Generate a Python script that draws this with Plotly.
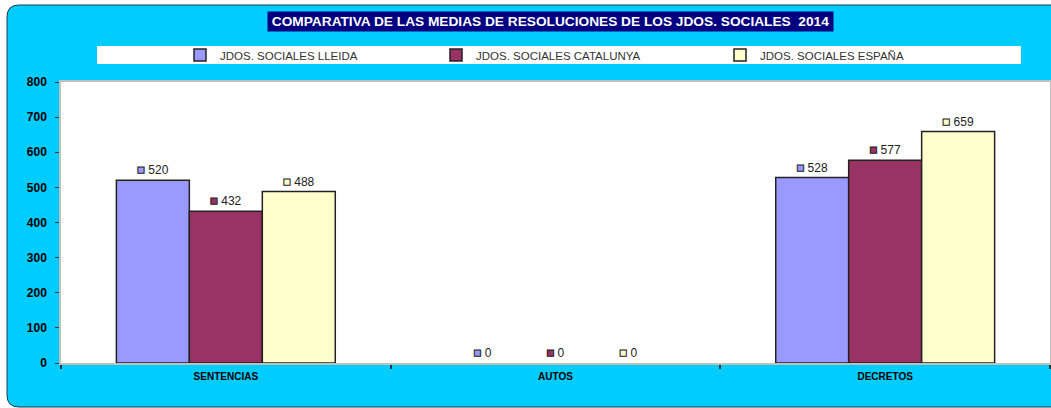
import plotly.graph_objects as go

categories = ["SENTENCIAS", "AUTOS", "DECRETOS"]
series_names = ["JDOS. SOCIALES LLEIDA", "JDOS. SOCIALES CATALUNYA", "JDOS. SOCIALES ESPAÑA"]
lleida = [520, 0, 528]
catalunya = [432, 0, 577]
espana = [488, 0, 659]
colors = ["#9999FF", "#993366", "#FFFFCC"]
title_text = "COMPARATIVA DE LAS MEDIAS DE RESOLUCIONES DE LOS JDOS. SOCIALES  2014"
y_ticks = list(range(0, 801, 100))

W, H = 1051, 408
L, R, T, B = 61, 1, 82, 45
pw, ph = W - L - R, H - T - B

def X(px):
    return (px - L) / pw

def Y(py):
    return (H - B - py) / ph

fig = go.Figure()
legends = ["legend", "legend2", "legend3"]
for name, vals, col, lg in zip(series_names, [lleida, catalunya, espana], colors, legends):
    fig.add_trace(go.Bar(
        x=categories, y=vals, name=name, legend=lg,
        marker=dict(color=col, line=dict(color="#222222",
                                         width=[1.5 if v > 0 else 0 for v in vals])),
        texttemplate=('<span style="color:' + col +
                      ';font-size:13px;stroke:#222222;stroke-width:1px">■</span> %{y}'),
        textposition="outside", cliponaxis=False,
        textfont=dict(family="Arial", size=12, color="#222222"),
    ))

# rounded cyan frame
r = 12
x0, x1, y0, y1 = 7, 1070, 5, 407
path = (f"M {X(x0+r)},{Y(y0)} L {X(x1)},{Y(y0)} L {X(x1)},{Y(y1)} L {X(x0+r)},{Y(y1)} "
        f"Q {X(x0)},{Y(y1)} {X(x0)},{Y(y1-r)} L {X(x0)},{Y(y0+r)} "
        f"Q {X(x0)},{Y(y0)} {X(x0+r)},{Y(y0)} Z")
shapes = [
    dict(type="path", xref="paper", yref="paper", path=path,
         fillcolor="#00CCFF", line=dict(color="#1a3a40", width=1), layer="below"),
    dict(type="rect", xref="paper", yref="paper", x0=X(97), x1=X(1021), y0=Y(64), y1=Y(46),
         fillcolor="white", line=dict(width=0), layer="below"),
    dict(type="rect", xref="paper", yref="paper", x0=0, x1=1, y0=0, y1=1,
         fillcolor="white", line=dict(width=0), layer="below"),
]

leg_common = dict(orientation="h", bgcolor="rgba(0,0,0,0)", xanchor="left", yanchor="middle",
                  font=dict(family="Arial", size=11.5, color="#333333"), itemwidth=30,
                  y=Y(55))
legend_x = [180, 436, 720]

fig.update_layout(
    width=W, height=H,
    margin=dict(l=L, r=R, t=T, b=B, pad=0, autoexpand=False),
    paper_bgcolor="white", plot_bgcolor="white",
    barmode="group", bargap=0.336, bargroupgap=0,
    shapes=shapes,
    legend=dict(**leg_common, x=X(legend_x[0])),
    legend2=dict(**leg_common, x=X(legend_x[1])),
    legend3=dict(**leg_common, x=X(legend_x[2])),
    annotations=[dict(
        text="<b>" + title_text + "</b>", xref="paper", yref="paper",
        x=X(550.5), y=Y(21.5), xanchor="center", yanchor="middle", showarrow=False,
        bgcolor="#000080", font=dict(family="Arial", size=13.7, color="white"),
        width=561, height=15, borderpad=2,
    )],
    showlegend=True,
    xaxis=dict(
        type="category", showline=True, linecolor="#BFBFBF", linewidth=1.5, mirror=True,
        ticks="outside", tickson="boundaries", ticklen=4, tickcolor="#1a3a40", tickwidth=2,
        tickfont=dict(family="Arial", size=10, color="black", weight="bold"),
        showgrid=False, zeroline=False, ticklabelstandoff=3,
    ),
    yaxis=dict(
        range=[0, 800], tickvals=y_ticks, showline=True, linecolor="#BFBFBF", linewidth=1.5,
        mirror=True, ticks="outside", ticklen=4, tickcolor="#1a3a40",
        tickfont=dict(family="Arial", size=12, color="black", weight="bold"),
        showgrid=False, zeroline=False, ticklabelstandoff=6,
    ),
)

fig.write_html("out.html", config={"displayModeBar": False},
               post_script="document.body.style.margin='0';")
